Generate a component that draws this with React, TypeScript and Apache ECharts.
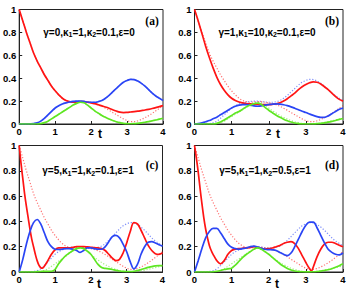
import React, { useEffect, useRef } from "react";
import * as echarts from "echarts";

// shared time grid
const T = [0,0.1,0.2,0.3,0.4,0.5,0.6,0.7,0.8,0.9,1,1.1,1.2,1.3,1.4,1.5,1.6,1.7,1.8,1.9,2,2.1,2.2,2.3,2.4,2.5,2.6,2.7,2.8,2.9,3,3.1,3.2,3.3,3.4,3.5,3.6,3.7,3.8,3.9,4];

// dotted reference curves (same in every panel)
const R0 = [1,0.9,0.8,0.71,0.62,0.55,0.49,0.43,0.38,0.33,0.29,0.255,0.225,0.205,0.195,0.19,0.192,0.195,0.195,0.19,0.185,0.178,0.168,0.155,0.138,0.12,0.1,0.082,0.063,0.045,0.03,0.021,0.021,0.028,0.04,0.055,0.073,0.093,0.115,0.137,0.16];
const B0 = [0,0,0.001,0.002,0.004,0.01,0.025,0.05,0.08,0.11,0.14,0.16,0.175,0.185,0.192,0.197,0.2,0.2,0.197,0.192,0.19,0.19,0.195,0.205,0.225,0.25,0.28,0.31,0.34,0.365,0.38,0.39,0.388,0.375,0.355,0.33,0.3,0.27,0.245,0.225,0.205];
const G0 = [0,0,0,0,0,0,0.003,0.012,0.025,0.045,0.065,0.085,0.105,0.125,0.145,0.165,0.18,0.19,0.185,0.165,0.14,0.115,0.095,0.075,0.058,0.043,0.03,0.02,0.012,0.006,0.003,0.002,0.003,0.006,0.01,0.015,0.021,0.028,0.035,0.042,0.05];

// panel (a)
const RA = [1,0.9,0.8,0.71,0.62,0.55,0.49,0.43,0.38,0.33,0.29,0.255,0.225,0.205,0.195,0.19,0.192,0.195,0.195,0.19,0.185,0.178,0.168,0.158,0.148,0.137,0.125,0.113,0.103,0.1,0.102,0.105,0.108,0.112,0.117,0.122,0.128,0.135,0.143,0.152,0.16];
const BA = B0;
const GA = G0;

// panel (b)
const RB = [1,0.9,0.79,0.68,0.58,0.49,0.41,0.345,0.295,0.255,0.225,0.205,0.192,0.184,0.178,0.175,0.173,0.171,0.17,0.17,0.17,0.172,0.176,0.185,0.2,0.22,0.245,0.27,0.3,0.325,0.345,0.36,0.368,0.365,0.35,0.325,0.3,0.27,0.24,0.215,0.2];
const BB = [0,0.003,0.01,0.02,0.03,0.045,0.06,0.08,0.1,0.12,0.14,0.155,0.165,0.17,0.17,0.165,0.158,0.155,0.158,0.165,0.17,0.174,0.175,0.173,0.168,0.16,0.15,0.138,0.125,0.112,0.1,0.087,0.075,0.065,0.058,0.058,0.07,0.09,0.11,0.128,0.14];
const GB = [0,0,0,0,0,0,0.005,0.018,0.035,0.055,0.075,0.095,0.11,0.13,0.15,0.165,0.178,0.182,0.17,0.145,0.12,0.098,0.077,0.058,0.042,0.028,0.017,0.009,0.004,0.001,0,0,0.001,0.003,0.006,0.01,0.016,0.023,0.031,0.04,0.048];

// panel (c)
const RC: [number, number][] = [[0,1],[0.05,0.86],[0.1,0.74],[0.15,0.62],[0.2,0.52],[0.25,0.43],[0.3,0.34],[0.35,0.26],[0.4,0.2],[0.45,0.14],[0.5,0.09],[0.55,0.055],[0.6,0.035],[0.65,0.03],[0.7,0.045],[0.8,0.09],[0.9,0.14],[1,0.175],[1.1,0.19],[1.2,0.19],[1.3,0.19],[1.4,0.19],[1.5,0.195],[1.6,0.2],[1.7,0.2],[1.8,0.2],[1.9,0.198],[2,0.195],[2.1,0.192],[2.2,0.19],[2.3,0.185],[2.4,0.17],[2.5,0.14],[2.6,0.11],[2.7,0.09],[2.8,0.1],[2.9,0.15],[3,0.23],[3.1,0.32],[3.2,0.39],[3.3,0.38],[3.4,0.33],[3.5,0.27],[3.6,0.21],[3.7,0.17],[3.8,0.145],[3.9,0.14],[4,0.15]];
const BC = [0,0.1,0.22,0.32,0.39,0.415,0.38,0.31,0.24,0.2,0.18,0.178,0.18,0.185,0.185,0.18,0.17,0.155,0.17,0.19,0.19,0.185,0.18,0.18,0.2,0.24,0.28,0.29,0.27,0.22,0.16,0.08,0.025,0.06,0.14,0.2,0.235,0.24,0.23,0.215,0.205];
const GC = [0,0,0,0,0,0.003,0.004,0.005,0.005,0.006,0.02,0.065,0.1,0.13,0.15,0.17,0.185,0.19,0.185,0.165,0.14,0.1,0.06,0.035,0.028,0.025,0.02,0.013,0.008,0.005,0.004,0.004,0.006,0.012,0.02,0.028,0.036,0.043,0.048,0.05,0.05];

// panel (d)
const RD: [number, number][] = [[0,1],[0.05,0.9],[0.1,0.79],[0.15,0.66],[0.2,0.54],[0.25,0.43],[0.3,0.34],[0.35,0.27],[0.4,0.21],[0.45,0.17],[0.5,0.14],[0.6,0.09],[0.7,0.065],[0.8,0.09],[0.9,0.14],[1,0.17],[1.1,0.18],[1.2,0.185],[1.3,0.188],[1.4,0.19],[1.5,0.195],[1.6,0.2],[1.7,0.195],[1.8,0.185],[1.9,0.182],[2,0.185],[2.1,0.19],[2.2,0.2],[2.3,0.21],[2.4,0.225],[2.5,0.235],[2.6,0.24],[2.7,0.225],[2.8,0.185],[2.9,0.13],[3,0.075],[3.1,0.025],[3.15,0.008],[3.2,0.04],[3.3,0.12],[3.4,0.18],[3.5,0.22],[3.6,0.235],[3.7,0.235],[3.8,0.225],[3.9,0.212],[4,0.2]];
const BD = [0,0.09,0.185,0.27,0.32,0.345,0.345,0.31,0.265,0.22,0.195,0.185,0.18,0.185,0.19,0.2,0.205,0.198,0.187,0.18,0.177,0.175,0.17,0.155,0.14,0.13,0.15,0.2,0.26,0.32,0.37,0.395,0.395,0.35,0.29,0.23,0.18,0.155,0.14,0.135,0.15];
const GD = [0,0,0,0,0,0.002,0.006,0.012,0.02,0.025,0.03,0.055,0.085,0.115,0.14,0.16,0.18,0.19,0.18,0.16,0.14,0.115,0.09,0.065,0.045,0.028,0.016,0.008,0.004,0.002,0.001,0.001,0.002,0.004,0.007,0.012,0.018,0.026,0.037,0.05,0.065];

const X_TICKS = [0, 1, 2, 3, 4];
const Y_TICKS = [0, 0.2, 0.4, 0.6, 0.8, 1];
const PANEL_LABELS = ["(a)", "(b)", "(c)", "(d)"];
const X_NAME = "t";
const PARAMS = [
  ["0", "1", "0.1", "0"],
  ["1", "10", "0.1", "0"],
  ["5", "1", "0.1", "1"],
  ["5", "1", "0.5", "1"],
];

const RED = "#ff1414";
const BLUE = "#2a45f5";
const GREEN = "#5ee622";
const SANS = "Liberation Sans, Arial, Helvetica, sans-serif";
const SERIF = "Liberation Serif, Times New Roman, serif";

const zip = (vals: number[]): [number, number][] => T.map((t, i) => [t, vals[i]]);

const PANELS = [
  { red: zip(RA), blue: zip(BA), green: zip(GA) },
  { red: zip(RB), blue: zip(BB), green: zip(GB) },
  { red: RC, blue: zip(BC), green: zip(GC) },
  { red: RD, blue: zip(BD), green: zip(GD) },
];

const GRIDS = [
  { left: 19, top: 9.5, width: 144, height: 114.5 },
  { left: 194.5, top: 9.5, width: 148.5, height: 114.5 },
  { left: 18.5, top: 145.5, width: 144, height: 126.5 },
  { left: 194.5, top: 145.5, width: 148.5, height: 126.5 },
];

const PARAM_POS = [
  [89, 32],
  [267, 32],
  [88, 170.5],
  [265, 170.5],
];
const LABEL_POS = [
  [152, 21],
  [332, 21],
  [152, 164.5],
  [332, 164.5],
];
const NAME_POS = [
  [100, 134],
  [278, 134],
  [99, 284],
  [277, 284],
];

function buildOption() {
  const grid = GRIDS.map((g) => ({
    ...g,
    show: true,
    borderColor: "#222",
    borderWidth: 1,
    backgroundColor: "#fff",
  }));
  const xAxis = GRIDS.map((_, i) => ({
    gridIndex: i,
    type: "value",
    min: X_TICKS[0],
    max: X_TICKS[X_TICKS.length - 1],
    interval: 1,
    axisLine: { show: true, lineStyle: { color: "#222", width: 1 } },
    axisTick: { show: true, inside: true, length: 3, lineStyle: { color: "#222" } },
    splitLine: { show: false },
    axisLabel: {
      margin: 2,
      fontSize: 9.5,
      fontWeight: "bold",
      fontFamily: SANS,
      color: "#000",
    },
  }));
  const yAxis = GRIDS.map((_, i) => ({
    gridIndex: i,
    type: "value",
    min: Y_TICKS[0],
    max: Y_TICKS[Y_TICKS.length - 1],
    interval: 0.2,
    axisLine: { show: true, lineStyle: { color: "#222", width: 1 } },
    axisTick: { show: true, inside: true, length: 3, lineStyle: { color: "#222" } },
    splitLine: { show: false },
    axisLabel: {
      margin: 3,
      fontSize: 9.5,
      fontWeight: "bold",
      fontFamily: SANS,
      color: "#000",
    },
  }));

  const series: any[] = [];
  PANELS.forEach((p, i) => {
    const dotted = [
      { data: zip(G0), color: GREEN },
      { data: zip(B0), color: BLUE },
      { data: zip(R0), color: RED },
    ];
    dotted.forEach((d) =>
      series.push({
        type: "line",
        xAxisIndex: i,
        yAxisIndex: i,
        data: d.data,
        showSymbol: false,
        smooth: 0.35,
        z: 2,
        lineStyle: { color: d.color, width: 1.2, type: [1.2, 1.8], opacity: 0.6 },
      })
    );
    const solid = [
      { data: p.red, color: RED },
      { data: p.blue, color: BLUE },
      { data: p.green, color: GREEN },
    ];
    solid.forEach((d, k) =>
      series.push({
        type: "line",
        xAxisIndex: i,
        yAxisIndex: i,
        data: d.data,
        showSymbol: false,
        smooth: 0.35,
        z: 3 + k,
        lineStyle: { color: d.color, width: 1.7 },
      })
    );
  });

  const main = { fontSize: 10, fontWeight: "bold", fontFamily: SANS, lineHeight: 12, fill: "#000" };
  const sub = { fontSize: 7, fontWeight: "bold", fontFamily: SANS, lineHeight: 6, verticalAlign: "bottom", fill: "#000" };
  const graphic: any[] = [];
  PARAMS.forEach((pr, i) => {
    graphic.push({
      type: "text",
      x: PARAM_POS[i][0],
      y: PARAM_POS[i][1],
      z: 100,
      style: {
        text: `{m|γ=${pr[0]},κ}{s|1}{m|=${pr[1]},κ}{s|2}{m|=${pr[2]},ε=${pr[3]}}`,
        rich: { m: main, s: sub },
        align: "center",
        verticalAlign: "middle",
      },
    });
    graphic.push({
      type: "text",
      x: LABEL_POS[i][0],
      y: LABEL_POS[i][1],
      z: 100,
      style: {
        text: PANEL_LABELS[i],
        font: `bold 11.5px ${SERIF}`,
        fill: "#000",
        align: "center",
        verticalAlign: "middle",
      },
    });
    graphic.push({
      type: "text",
      x: NAME_POS[i][0],
      y: NAME_POS[i][1],
      z: 100,
      style: {
        text: X_NAME,
        font: `bold 12px ${SANS}`,
        fill: "#000",
        align: "center",
        verticalAlign: "middle",
      },
    });
  });

  return {
    animation: false,
    backgroundColor: "#fff",
    grid,
    xAxis,
    yAxis,
    series,
    graphic,
  };
}

export default function App() {
  const ref = useRef<HTMLDivElement>(null);
  useEffect(() => {
    if (!ref.current) return;
    const chart = echarts.init(ref.current, null, { renderer: "svg" });
    chart.setOption(buildOption() as any);
    return () => chart.dispose();
  }, []);
  return (
    <div
      ref={ref}
      style={{ position: "fixed", left: 0, top: 0, width: 354, height: 299, background: "#fff" }}
    />
  );
}
